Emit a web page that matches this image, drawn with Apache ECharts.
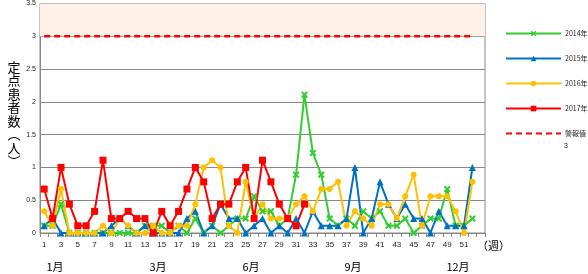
<!DOCTYPE html>
<html><head><meta charset="utf-8">
<script src="https://cdn.jsdelivr.net/npm/echarts@6/dist/echarts.min.js"></script>
<style>html,body{margin:0;padding:0;background:#fff}#c{width:588px;height:274px}</style>
</head><body><div id="c"></div>
<script>
// ---- data ----
const weeks = ['1','2','3','4','5','6','7','8','9','10','11','12','13','14','15','16','17','18','19','20','21','22','23','24','25','26','27','28','29','30','31','32','33','34','35','36','37','38','39','40','41','42','43','44','45','46','47','48','49','50','51','52','53'];
const seriesNames = ['2014年','2015年','2016年','2017年','警報値'];
const y2014 = [0.11,0.11,0.44,0,0,0,0,0,0,0,0,0,0.11,0.11,0.11,0,0.11,0,0.22,0,0.11,0,0.11,0.22,0.22,0.56,0.33,0.33,0.11,0.22,0.89,2.11,1.22,0.89,0.22,0.11,0.22,0.11,0.33,0.22,0.33,0.11,0.11,0.22,0,0.11,0.22,0.22,0.67,0.11,0.11,0.22];
const y2015 = [0.11,0.22,0,0,0,0,0,0,0.11,0.22,0.11,0,0.11,0,0,0,0,0.22,0.33,0,0.11,0.44,0.22,0.22,0,0.11,0.22,0,0.11,0,0.22,0,0.33,0.11,0.11,0.11,0.22,1.0,0,0.22,0.78,0.44,0.22,0.44,0.22,0.22,0,0.33,0.11,0.11,0.11,1.0];
const y2016 = [0.33,0.11,0.67,0,0,0,0,0.11,0,0.22,0.11,0,0,0.11,0,0,0.11,0.11,0.44,1.0,1.11,1.0,0.11,0,0.78,0.22,0.44,0.22,0.22,0.22,0.44,0.56,0.33,0.67,0.67,0.78,0.11,0.33,0.22,0.11,0.44,0.44,0.22,0.56,0.89,0.11,0.56,0.56,0.56,0.33,0,0.78];
const y2017 = [0.67,0.22,1.0,0.44,0.11,0.11,0.33,1.11,0.22,0.22,0.33,0.22,0.22,0,0.33,0.11,0.33,0.67,1.0,0.78,0.22,0.44,0.44,0.78,1.0,0.22,1.11,0.78,0.44,0.22,0.11,0.44];
const alarm = [3,3,3,3,3,3,3,3,3,3,3,3,3,3,3,3,3,3,3,3,3,3,3,3,3,3,3,3,3,3,3,3,3,3,3,3,3,3,3,3,3,3,3,3,3,3,3,3,3,3,3,3];
const alarmNote = '3';
const yTitle = ['定','点','患','者','数','︵','人','︶'];
const xTitle = '（週）';
const monthLabels = ['1月','3月','6月','9月','12月'];

// ---- layout / style ----
const monthX = [55, 158, 251, 353, 458];
const sans = '"Liberation Sans", Arial, sans-serif';
const cjk = '"Noto Sans CJK JP", "Noto Sans CJK SC", sans-serif';
const xMark = 'path://M2,0L5,3L8,0L10,2L7,5L10,8L8,10L5,7L2,10L0,8L3,5L0,2Z';

const chart = echarts.init(document.getElementById('c'), null, {renderer: 'canvas'});
const graphics = [
  {type:'text', x:14, y:60, style:{text: yTitle.join('\n'), fontSize:13, lineHeight:13.5, fontFamily:cjk, fill:'#000', align:'center', verticalAlign:'top'}},
  {type:'text', x:477, y:246, style:{text: xTitle, fontSize:11, fontFamily:cjk, fill:'#000', align:'left', verticalAlign:'middle'}},
  {type:'text', x:564, y:146, style:{text: alarmNote, fontSize:7, fontFamily:sans, fill:'#222', align:'left', verticalAlign:'middle'}}
];
monthLabels.forEach((m, i) => graphics.push({type:'text', x:monthX[i], y:267, style:{text:m, fontSize:11, fontFamily:cjk, fill:'#000', align:'center', verticalAlign:'middle'}}));

const legendData = seriesNames.map((n, i) => i === 4 ? {name:n, itemStyle:{opacity:0}} : {name:n});

const option = {
  animation: false,
  grid: {left:40, right:103, top:2, bottom:41, show:true, borderColor:'#888', borderWidth:1, backgroundColor:'transparent'},
  xAxis: {
    type:'category', data:weeks, boundaryGap:true,
    axisLine:{lineStyle:{color:'#888'}},
    axisTick:{show:true, interval:0, length:4, lineStyle:{color:'#888'}},
    axisLabel:{interval:1, fontSize:8, color:'#222', margin:8, fontFamily:sans, formatter:(v,i)=> i===52 ? '' : v},
    splitLine:{show:false}
  },
  yAxis: {
    type:'value', min:0, max:3.5, interval:0.5,
    axisLine:{show:true, lineStyle:{color:'#888'}},
    axisTick:{show:false},
    axisLabel:{fontSize:7, color:'#222', margin:4, fontFamily:sans},
    splitLine:{lineStyle:{color:'#888', width:1}}
  },
  legend: {
    orient:'vertical', left:505, top:30, padding:0, itemWidth:55, itemHeight:7, itemGap:18,
    textStyle:{fontSize:7, color:'#222', fontFamily:cjk, padding:[0,0,0,-1]},
    data: legendData
  },
  graphic: graphics,
  series: [
    {name:seriesNames[0], type:'line', data:y2014, symbol:xMark, symbolSize:7, showAllSymbol:true, lineStyle:{color:'#33CC33', width:2}, itemStyle:{color:'#33CC33'}},
    {name:seriesNames[1], type:'line', data:y2015, symbol:'triangle', symbolSize:7, showAllSymbol:true, lineStyle:{color:'#0070C0', width:2}, itemStyle:{color:'#0070C0'}},
    {name:seriesNames[2], type:'line', data:y2016, symbol:'circle', symbolSize:6, showAllSymbol:true, lineStyle:{color:'#FFC000', width:2}, itemStyle:{color:'#FFC000'}},
    {name:seriesNames[3], type:'line', data:y2017, symbol:'rect', symbolSize:7, showAllSymbol:true, lineStyle:{color:'#FF0000', width:2}, itemStyle:{color:'#FF0000'}},
    {name:seriesNames[4], type:'line', data:alarm, symbol:'none', lineStyle:{color:'#FF0000', width:2.5, type:[6,4]}, itemStyle:{color:'#FF0000'},
      markArea:{silent:true, itemStyle:{color:'#FDF0E6'}, data:[[{yAxis:3},{yAxis:3.5}]]}, z:1}
  ]
};
chart.setOption(option);
</script></body></html>
